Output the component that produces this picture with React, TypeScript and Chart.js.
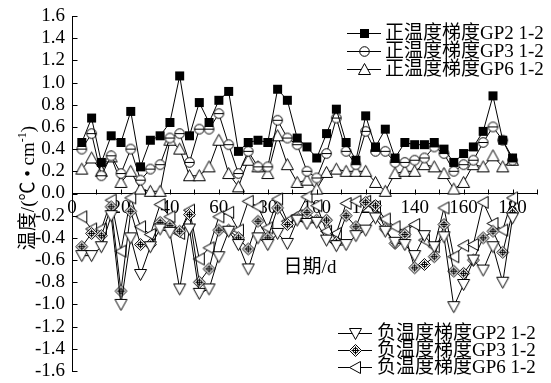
import React, { useEffect, useRef } from 'react';
import { Chart, registerables } from 'chart.js';
Chart.register(...registerables);

const days = [4, 8, 12, 16, 20, 24, 28, 32, 36, 40, 44, 48, 52, 56, 60, 64, 68, 72, 76, 80, 84, 88, 92, 96, 100, 104, 108, 112, 116, 120, 124, 128, 132, 136, 140, 144, 148, 152, 156, 160, 164, 168, 172, 176, 180];

const posGP2 = [0.46, 0.68, 0.28, 0.52, 0.46, 0.74, 0.24, 0.48, 0.52, 0.64, 1.06, 0.52, 0.82, 0.64, 0.84, 0.92, 0.38, 0.46, 0.48, 0.46, 0.94, 0.84, 0.50, 0.42, 0.32, 0.54, 0.76, 0.46, 0.30, 0.70, 0.42, 0.58, 0.32, 0.46, 0.44, 0.44, 0.46, 0.40, 0.28, 0.36, 0.42, 0.56, 0.88, 0.48, 0.32];
const posGP3 = [0.40, 0.54, 0.16, 0.34, 0.18, 0.40, 0.12, 0.22, 0.26, 0.50, 0.54, 0.28, 0.58, 0.58, 0.72, 0.44, 0.18, 0.38, 0.24, 0.24, 0.66, 0.50, 0.44, 0.20, 0.14, 0.36, 0.68, 0.38, 0.26, 0.56, 0.38, 0.38, 0.28, 0.28, 0.30, 0.32, 0.42, 0.36, 0.20, 0.26, 0.30, 0.46, 0.60, 0.48, 0.30];
const posGP6 = [0.22, 0.32, 0.20, 0.33, 0.10, 0.20, 0.04, 0.02, 0.02, 0.48, 0.40, 0.16, 0.16, 0.24, 0.48, 0.18, 0.06, 0.30, 0.24, 0.18, 0.52, 0.26, 0.10, 0.12, 0.04, 0.19, 0.22, 0.20, 0.20, 0.20, 0.10, 0.02, 0.18, 0.20, 0.20, 0.26, 0.24, 0.18, 0.04, 0.10, 0.26, 0.24, 0.34, 0.24, 0.30];

const negGP2 = [-0.56, -0.56, -0.48, -0.20, -1.00, -0.40, -0.73, -0.48, -0.32, -0.35, -0.86, -0.32, -0.90, -0.86, -0.57, -0.34, -0.46, -0.68, -0.40, -0.46, -0.36, -0.45, -0.24, -0.27, -0.26, -0.42, -0.47, -0.46, -0.38, -0.33, -0.22, -0.34, -0.44, -0.46, -0.56, -0.38, -0.48, -0.39, -1.02, -0.82, -0.60, -0.69, -0.48, -0.80, -0.22];
const negGP3 = [-0.48, -0.36, -0.38, -0.12, -0.88, -0.16, -0.46, -0.46, -0.26, -0.29, -0.34, -0.19, -0.80, -0.68, -0.33, -0.33, -0.40, -0.50, -0.25, -0.40, -0.13, -0.28, -0.22, -0.17, -0.24, -0.24, -0.44, -0.20, -0.30, -0.08, -0.11, -0.32, -0.45, -0.37, -0.67, -0.64, -0.57, -0.28, -0.70, -0.72, -0.60, -0.40, -0.34, -0.53, -0.17];
const negGP6 = [-0.21, -0.32, -0.32, -0.06, -0.52, -0.04, -0.30, -0.37, -0.10, -0.21, -0.36, -0.15, -0.59, -0.49, -0.21, -0.17, -0.33, -0.07, -0.12, -0.31, -0.05, -0.25, -0.20, -0.03, -0.11, -0.34, -0.36, -0.09, -0.07, -0.07, -0.12, -0.23, -0.30, -0.34, -0.28, -0.42, -0.48, -0.13, -0.57, -0.47, -0.46, -0.08, -0.27, -0.33, -0.04];

const seriesNames = [
  '正温度梯度GP2 1-2',
  '正温度梯度GP3 1-2',
  '正温度梯度GP6 1-2',
  '负温度梯度GP2 1-2',
  '负温度梯度GP3 1-2',
  '负温度梯度GP6 1-2',
];
const markerKinds = ['square', 'circleBar', 'triUp', 'triDown', 'diamondCross', 'triLeft'];

const xTickLabels = [0, 20, 40, 60, 80, 100, 120, 140, 160, 180];
const xMin = 0, xMax = 190, xStep = 10;
const yMin = -1.6, yMax = 1.6, yStep = 0.2;

const yTitleMain = '温度/(℃ • cm';
const yTitleSup = '-1';
const yTitleEnd = ')';
const xTitle = '日期/d';

const FONT = '"Liberation Serif", "Noto Sans CJK SC", serif';

function makeMarker(kind: string): HTMLCanvasElement {
  const c = document.createElement('canvas');
  c.width = 15; c.height = 15;
  const g = c.getContext('2d')!;
  g.strokeStyle = '#000';
  g.fillStyle = '#fff';
  g.lineWidth = 1;
  g.beginPath();
  if (kind === 'square') {
    g.fillStyle = '#000';
    g.fillRect(3, 3, 9, 9);
    return c;
  }
  if (kind === 'circleBar') {
    g.arc(7.5, 7.5, 4.8, 0, Math.PI * 2);
    g.fill(); g.stroke();
    g.beginPath(); g.moveTo(2.7, 7.5); g.lineTo(12.3, 7.5); g.stroke();
    return c;
  }
  if (kind === 'triUp') {
    g.moveTo(7.5, 1.5); g.lineTo(13.5, 12.5); g.lineTo(1.5, 12.5); g.closePath();
  } else if (kind === 'triDown') {
    g.moveTo(7.5, 13.5); g.lineTo(13.5, 2.5); g.lineTo(1.5, 2.5); g.closePath();
  } else if (kind === 'triLeft') {
    g.moveTo(1.5, 7.5); g.lineTo(12.5, 1.5); g.lineTo(12.5, 13.5); g.closePath();
  } else if (kind === 'diamondCross') {
    g.moveTo(7.5, 1.5); g.lineTo(13.5, 7.5); g.lineTo(7.5, 13.5); g.lineTo(1.5, 7.5); g.closePath();
    g.fill(); g.stroke();
    g.beginPath(); g.arc(7.5, 7.5, 2.5, 0, Math.PI * 2); g.stroke();
    g.beginPath(); g.moveTo(7.5, 3.5); g.lineTo(7.5, 11.5); g.moveTo(3.5, 7.5); g.lineTo(11.5, 7.5); g.stroke();
    return c;
  }
  g.fill(); g.stroke();
  return c;
}

export default function App() {
  const ref = useRef<HTMLCanvasElement | null>(null);
  useEffect(() => {
    const canvas = ref.current!;
    const markers = markerKinds.map(makeMarker);
    const allSeries = [posGP2, posGP3, posGP6, negGP2, negGP3, negGP6];

    const overlay = {
      id: 'overlay',
      afterDraw(chart: any) {
        const ctx = chart.ctx as CanvasRenderingContext2D;
        const xs = chart.scales.x, ys = chart.scales.y;
        const area = chart.chartArea;
        ctx.save();
        ctx.strokeStyle = '#000';
        ctx.lineWidth = 1;
        const ax = Math.round(area.left) + 0.5;
        ctx.beginPath();
        for (let k = 0; k <= Math.round((yMax - yMin) / yStep); k++) {
          const v = yMin + k * yStep;
          const py = Math.round(ys.getPixelForValue(v)) + 0.5;
          ctx.moveTo(ax, py); ctx.lineTo(ax + 5, py);
        }
        const zy = Math.round(ys.getPixelForValue(0)) + 0.5;
        for (let d = xMin; d <= xMax; d += xStep) {
          const px = Math.round(xs.getPixelForValue(d)) + 0.5;
          ctx.moveTo(px, zy); ctx.lineTo(px, zy - 5);
        }
        ctx.stroke();

        ctx.fillStyle = '#000';
        ctx.textBaseline = 'middle';
        ctx.textAlign = 'left';
        const drawEntry = (i: number, x1: number, x2: number, y: number, tx: number) => {
          ctx.beginPath();
          ctx.moveTo(x1, y + 0.5); ctx.lineTo(x2, y + 0.5); ctx.stroke();
          const m = markers[i];
          ctx.drawImage(m, Math.round((x1 + x2) / 2 - m.width / 2), Math.round(y - m.height / 2 + 0.5));
          ctx.font = `19px ${FONT}`;
          ctx.fillText(seriesNames[i], tx, y + 1);
        };
        drawEntry(0, 347, 381, 33, 385);
        drawEntry(1, 347, 381, 51, 385);
        drawEntry(2, 347, 381, 69, 385);
        drawEntry(3, 338, 372, 333, 377);
        drawEntry(4, 338, 372, 350, 377);
        drawEntry(5, 338, 372, 367, 377);

        ctx.font = `19px ${FONT}`;
        ctx.textAlign = 'center';
        ctx.fillText(xTitle, 310, 268);

        ctx.save();
        ctx.translate(29, 188);
        ctx.rotate(-Math.PI / 2);
        ctx.textAlign = 'left';
        ctx.font = `19px ${FONT}`;
        const w1 = ctx.measureText(yTitleMain).width;
        const w3 = ctx.measureText(yTitleEnd).width;
        ctx.font = `12px ${FONT}`;
        const w2 = ctx.measureText(yTitleSup).width;
        const total = w1 + w2 + w3;
        let x = -total / 2;
        ctx.font = `19px ${FONT}`;
        ctx.fillText(yTitleMain, x, 0);
        x += w1;
        ctx.font = `12px ${FONT}`;
        ctx.fillText(yTitleSup, x, -6);
        x += w2;
        ctx.font = `19px ${FONT}`;
        ctx.fillText(yTitleEnd, x, 0);
        ctx.restore();

        ctx.restore();
      },
    };

    const chart = new Chart(canvas, {
      type: 'line',
      data: {
        datasets: allSeries.map((vals, i) => ({
          label: seriesNames[i],
          data: days.map((d, j) => ({ x: d, y: vals[j] })),
          borderColor: '#000',
          borderWidth: 1,
          backgroundColor: '#fff',
          pointStyle: markers[i],
          pointRadius: 5,
          tension: 0,
          fill: false,
        })),
      },
      options: {
        responsive: false,
        animation: false,
        devicePixelRatio: 1,
        layout: { padding: { left: 0, top: 16, right: 14, bottom: 12 } },
        plugins: {
          legend: { display: false },
          tooltip: { enabled: false },
          title: { display: false },
        },
        scales: {
          x: {
            type: 'linear',
            min: xMin,
            max: xMax,
            position: { y: 0 } as any,
            afterFit: (s: any) => {
              s.height = 0;
              s.paddingLeft = 0; s.paddingRight = 0; s.paddingTop = 0; s.paddingBottom = 0;
            },
            grid: { display: true, drawOnChartArea: false, drawTicks: false, color: '#000' },
            border: { display: true, color: '#000', width: 1 },
            ticks: {
              stepSize: xStep,
              autoSkip: false,
              maxRotation: 0,
              padding: 3,
              color: '#000',
              font: { family: FONT, size: 19 },
              callback: (v: any) => (xTickLabels.includes(Number(v)) ? String(v) : ''),
            },
          },
          y: {
            type: 'linear',
            min: yMin,
            max: yMax,
            afterFit: (s: any) => {
              s.width = 72;
              s.paddingTop = 0; s.paddingBottom = 0; s.paddingLeft = 0; s.paddingRight = 0;
            },
            grid: { display: true, drawOnChartArea: false, drawTicks: false, color: '#000' },
            border: { display: true, color: '#000', width: 1 },
            ticks: {
              stepSize: yStep,
              autoSkip: false,
              padding: 7,
              color: '#000',
              font: { family: FONT, size: 19 },
              callback: (v: any) => Number(v).toFixed(1),
            },
          },
        },
      },
      plugins: [overlay],
    });
    return () => chart.destroy();
  }, []);

  return (
    <div style={{ position: 'fixed', left: 0, top: 0, width: 551, height: 383, background: '#fff' }}>
      <canvas ref={ref} width={551} height={383} style={{ width: 551, height: 383, display: 'block' }} />
    </div>
  );
}
